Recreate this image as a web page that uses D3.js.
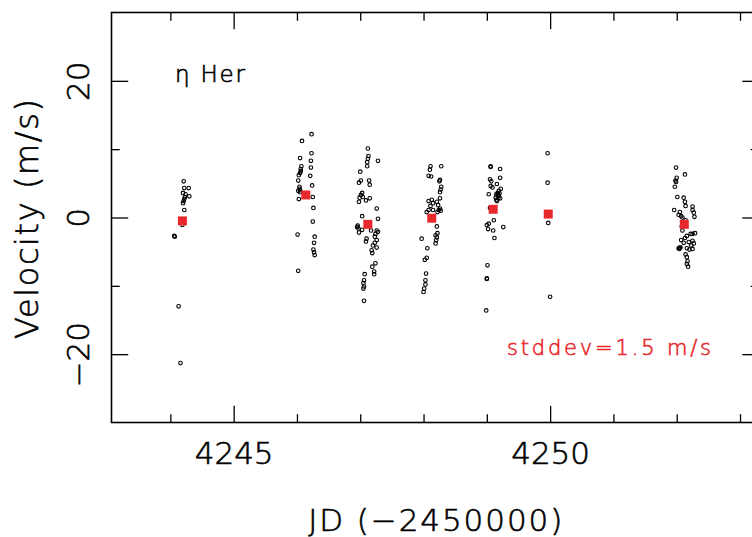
<!DOCTYPE html>
<html>
<head>
<meta charset="utf-8">
<script src="https://cdn.jsdelivr.net/npm/d3@7"></script>
<style>
  html, body { margin: 0; padding: 0; background: #fff; }
  svg text { font-family: "DejaVu Sans", sans-serif; font-weight: 200; stroke-width: 0.6px; }
</style>
</head>
<body>
<svg id="chart" width="752" height="537"></svg>
<script>
// radial velocities per night: [JD - 2450000, m/s]
const night1 = [[4244.21, 5.3], [4244.22, 4.3], [4244.29, 4.3], [4244.20, 3.6], [4244.24, 3.4], [4244.30, 3.1],
  [4244.23, 3.0], [4244.22, 2.7], [4244.21, 2.4], [4244.20, 2.1], [4244.22, 1.1], [4244.19, -1.1],
  [4244.06, -2.7], [4244.07, -2.8], [4244.13, -13.0], [4244.16, -21.3]]

const night2 = [[4246.23, 12.2], [4246.08, 11.2], [4246.05, 8.7], [4246.23, 9.4], [4246.22, 8.3], [4246.07, 7.5],
  [4246.22, 7.3], [4246.06, 7.1], [4246.05, 6.5], [4246.03, 6.2], [4246.02, 5.4], [4246.21, 6.1],
  [4246.24, 4.7], [4246.04, 4.5], [4246.05, 4.0], [4246.02, 3.9], [4246.05, 3.7], [4246.25, 3.0],
  [4246.03, 2.7], [4246.26, 1.4], [4246.25, -0.6], [4246.01, -2.5], [4246.28, -2.8], [4246.27, -3.7],
  [4246.26, -4.7], [4246.27, -5.1], [4246.28, -5.5], [4246.02, -7.8], [4246.06, 6.8], [4246.04, 4.2]]

const night3 = [[4247.12, 10.1], [4247.13, 9.0], [4247.12, 8.6], [4247.28, 8.3], [4247.11, 8.1], [4247.11, 7.5],
  [4247.00, 6.7], [4247.01, 5.4], [4246.98, 5.1], [4247.14, 5.4], [4247.15, 4.8], [4247.03, 3.6],
  [4247.01, 3.3], [4247.04, 3.0], [4246.98, 2.3], [4247.09, 2.5], [4247.15, 2.8], [4246.99, 2.9],
  [4247.26, 1.3], [4247.03, 0.2], [4247.28, -0.2], [4246.96, -1.2], [4246.95, -1.4], [4246.97, -1.6],
  [4246.98, -2.2], [4247.03, -1.8], [4247.17, -1.9], [4247.26, -1.9], [4247.28, -2.1], [4247.24, -2.4],
  [4247.23, -2.8], [4247.26, -3.3], [4247.23, -3.7], [4247.20, -4.1], [4247.26, -4.4], [4247.18, -4.8],
  [4247.19, -5.2], [4247.10, -3.1], [4247.09, -3.5], [4247.24, -6.7], [4247.19, -7.2], [4247.22, -7.9],
  [4247.22, -8.3], [4247.07, -8.3], [4247.06, -9.2], [4247.05, -9.6], [4247.06, -10.1], [4247.05, -10.4],
  [4247.06, -12.2]]

const night4 = [[4248.11, 7.5], [4248.10, 7.0], [4248.28, 7.5], [4248.08, 6.1], [4248.12, 6.0], [4248.26, 5.5],
  [4248.25, 5.3], [4248.28, 4.5], [4248.27, 4.1], [4248.26, 3.7], [4248.26, 2.8], [4248.08, 2.4],
  [4248.13, 2.6], [4248.15, 2.1], [4248.21, 2.3], [4248.23, 1.8], [4248.11, 1.7], [4248.05, 0.8],
  [4248.08, 1.1], [4248.15, 1.1], [4248.24, 1.1], [4248.26, 1.3], [4248.27, 1.0], [4248.22, 0.8],
  [4248.21, -1.3], [4248.22, -2.3], [4248.19, -2.6], [4248.21, -2.9], [4248.20, -3.3], [4248.19, -3.8],
  [4247.97, -3.1], [4248.06, -4.5], [4248.05, -5.9], [4248.02, -6.2], [4248.04, -8.2], [4248.03, -9.2],
  [4248.03, -9.8], [4248.01, -10.4], [4248.00, -10.9]]

const night5 = [[4249.06, 7.4], [4249.06, 7.5], [4249.21, 7.1], [4249.21, 5.8], [4249.05, 5.6], [4249.07, 5.3],
  [4249.16, 4.9], [4249.06, 4.6], [4249.09, 4.4], [4249.22, 4.2], [4249.19, 3.9], [4249.17, 3.6],
  [4249.15, 3.4], [4249.19, 3.2], [4249.14, 2.9], [4249.18, 2.8], [4249.21, 2.8], [4249.03, 3.4],
  [4249.16, 2.4], [4249.05, 1.4], [4249.11, -0.4], [4249.03, -0.9], [4249.00, -1.1], [4249.02, -1.7],
  [4249.10, -1.9], [4249.26, -1.4], [4249.12, -3.0], [4249.01, -7.0], [4249.00, -8.9], [4249.00, -9.0],
  [4248.99, -13.6], [4249.17, 3.3], [4249.20, 3.5], [4249.15, 2.6]]

const night6 = [[4249.96, 9.4], [4249.96, 5.1], [4249.97, -0.8], [4250.00, -11.6]]

const night7 = [[4251.99, 7.3], [4252.13, 6.3], [4252.00, 5.8], [4251.98, 5.4], [4251.99, 5.2], [4251.97, 4.5],
  [4252.01, 3.0], [4252.11, 2.9], [4252.13, 2.3], [4252.14, 1.7], [4252.25, 1.6], [4251.96, 1.1],
  [4252.05, 0.8], [4252.25, 1.1], [4252.03, 0.4], [4252.27, 0.7], [4252.28, 0.1], [4252.07, 0.2],
  [4252.09, 0.0], [4252.14, -0.4], [4252.22, -2.4], [4252.25, -2.4], [4252.29, -2.3], [4252.16, -2.7],
  [4252.13, -3.0], [4252.07, -3.3], [4252.25, -3.4], [4252.19, -3.6], [4252.11, -3.7], [4252.27, -3.8],
  [4252.23, -4.1], [4252.04, -4.5], [4252.04, -4.6], [4252.05, -4.4], [4252.03, -4.5], [4252.06, -4.4],
  [4252.16, -4.5], [4252.20, -4.7], [4252.25, -4.6], [4252.14, -5.4], [4252.16, -5.8], [4252.17, -6.4],
  [4252.16, -6.8], [4252.18, -7.2], [4252.09, -1.9], [4252.08, -1.3], [4252.11, -0.8]]

// nightly means
const meanJd = [4244.19, 4246.14, 4247.12, 4248.13, 4249.10, 4249.97, 4252.12]
const meanVel = [-0.5, 3.3, -1.0, -0.1, 1.2, 0.5, -1.0]

const xMajorTicks = [4245, 4250]
const xMinorTicks = [4244, 4246, 4247, 4248, 4249, 4251, 4252, 4253]
const yMajorTicks = [-20, 0, 20]
const yMinorTicks = [-10, 10]

const red = "#e8282d"

const svg = d3.select("#chart")
const plotLeft = 111.5, plotRight = 759, plotTop = 12.5, plotBottom = 422.5

const x = d3.scaleLinear().domain([4243.07, 4253.3]).range([plotLeft, plotRight])
const y = d3.scaleLinear().domain([-30, 30]).range([plotBottom, plotTop])

const allObs = [].concat(night1, night2, night3, night4, night5, night6, night7)

// points
svg.append("g")
  .selectAll("circle")
  .data(allObs)
  .join("circle")
  .attr("cx", d => x(d[0]))
  .attr("cy", d => y(d[1]))
  .attr("r", 1.8)
  .attr("fill", "none")
  .attr("stroke", "#000")
  .attr("stroke-width", 1.1)

// means
svg.append("g")
  .selectAll("rect")
  .data(meanJd)
  .join("rect")
  .attr("x", d => x(d) - 4.5)
  .attr("y", (d, i) => y(meanVel[i]) - 4.5)
  .attr("width", 9)
  .attr("height", 9)
  .attr("fill", red)

// axes, ticks pointing inward
function styleAxis(g) {
  g.select(".domain").remove()
  g.selectAll(".tick line").attr("stroke", "#000").attr("stroke-width", 1.3)
  g.selectAll(".tick text").attr("fill", "#000").attr("stroke", "#000").attr("font-size", 31)
    .attr("font-family", "'DejaVu Sans', sans-serif")
}

svg.append("g").attr("transform", `translate(0,${plotBottom})`)
  .call(d3.axisBottom(x).tickValues(xMajorTicks).tickSize(-16.7).tickPadding(19).tickFormat(d3.format("d")))
  .call(styleAxis)
svg.append("g").attr("transform", `translate(0,${plotBottom})`)
  .call(d3.axisBottom(x).tickValues(xMinorTicks).tickSize(-8.3).tickFormat(""))
  .call(styleAxis)
svg.append("g").attr("transform", `translate(0,${plotTop})`)
  .call(d3.axisTop(x).tickValues(xMajorTicks).tickSize(-16.7).tickFormat(""))
  .call(styleAxis)
svg.append("g").attr("transform", `translate(0,${plotTop})`)
  .call(d3.axisTop(x).tickValues(xMinorTicks).tickSize(-8.3).tickFormat(""))
  .call(styleAxis)

svg.append("g").attr("transform", `translate(${plotLeft},0)`)
  .call(d3.axisLeft(y).tickValues(yMajorTicks).tickSize(-16.7).tickFormat(d3.format("d")))
  .call(styleAxis)
  .call(g => g.selectAll(".tick text")
    .attr("transform", "rotate(-90)")
    .attr("x", 0).attr("y", -23).attr("dy", 0)
    .attr("text-anchor", "middle"))
svg.append("g").attr("transform", `translate(${plotLeft},0)`)
  .call(d3.axisLeft(y).tickValues(yMinorTicks).tickSize(-8.3).tickFormat(""))
  .call(styleAxis)
svg.append("g").attr("transform", `translate(${plotRight},0)`)
  .call(d3.axisRight(y).tickValues(yMajorTicks).tickSize(-16.7).tickFormat(""))
  .call(styleAxis)
svg.append("g").attr("transform", `translate(${plotRight},0)`)
  .call(d3.axisRight(y).tickValues(yMinorTicks).tickSize(-8.3).tickFormat(""))
  .call(styleAxis)

// frame
svg.append("rect")
  .attr("x", plotLeft).attr("y", plotTop)
  .attr("width", plotRight - plotLeft).attr("height", plotBottom - plotTop)
  .attr("fill", "none").attr("stroke", "#000").attr("stroke-width", 1.6)

// labels
svg.append("text")
  .attr("x", (plotLeft + plotRight) / 2).attr("y", 531)
  .attr("text-anchor", "middle")
  .attr("font-size", 31)
  .attr("fill", "#000").attr("stroke", "#000")
  .attr("textLength", 254).attr("lengthAdjust", "spacing")
  .text("JD (−2450000)")

svg.append("text")
  .attr("transform", "translate(37.5,219) rotate(-90)")
  .attr("text-anchor", "middle")
  .attr("font-size", 32)
  .attr("fill", "#000").attr("stroke", "#000")
  .attr("textLength", 240).attr("lengthAdjust", "spacing")
  .text("Velocity (m/s)")

svg.append("text")
  .attr("x", 175).attr("y", 82)
  .attr("font-size", 23)
  .attr("fill", "#000").attr("stroke", "#000")
  .attr("textLength", 70).attr("lengthAdjust", "spacing")
  .text("η Her")

svg.append("text")
  .attr("x", 507).attr("y", 355)
  .attr("font-size", 21)
  .attr("fill", red).attr("stroke", red)
  .attr("textLength", 204).attr("lengthAdjust", "spacing")
  .text("stddev=1.5 m/s")
</script>
</body>
</html>
